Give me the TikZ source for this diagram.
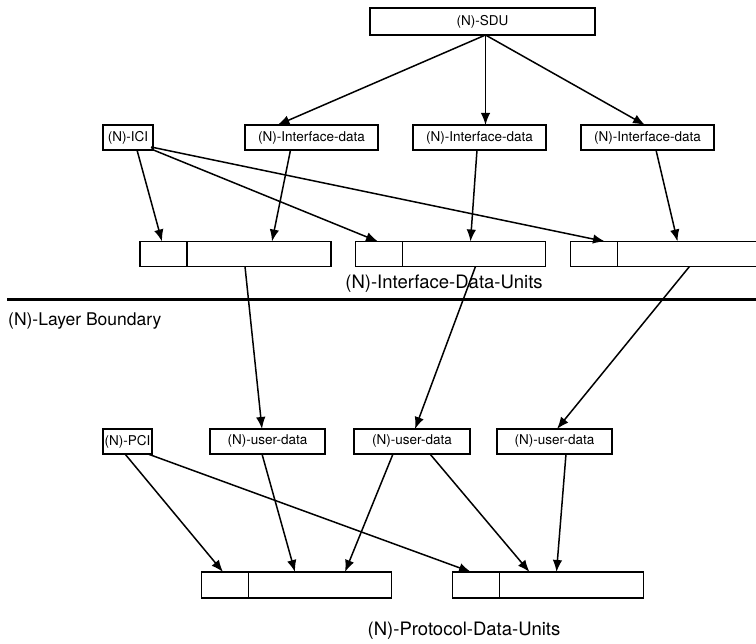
\documentclass[tikz,border=0pt]{standalone}
\usepackage{fontspec}
\setmainfont{TeX Gyre Heros}
\usetikzlibrary{arrows.meta,calc}
\begin{document}
\begin{tikzpicture}[x=1pt,y=-1pt,
  box/.style={draw,line width=1.1pt,minimum height=25pt,inner sep=0pt,outer sep=0pt,
              font=\fontsize{13.5}{14}\selectfont},
  hdr/.style={box,minimum width=47pt},
  flow/.style={line width=1.5pt,-{Latex[length=12pt,width=9.5pt]}},
  caption/.style={font=\fontsize{18.5}{20}\selectfont,inner sep=0pt}]
\clip (0,0) rectangle (756,644);

% service data unit and its pieces
\node[box,minimum width=225pt,minimum height=27pt] (sdu) at (482.5,21.5) {(N)-SDU};
\node[box,minimum width=50pt]  (ici) at (128,137.5) {(N)-ICI};
\node[box,minimum width=133pt] (id1) at (311.5,137.5) {(N)-Interface-data};
\node[box,minimum width=133pt] (id2) at (479.5,137.5) {(N)-Interface-data};
\node[box,minimum width=133pt] (id3) at (647.5,137.5) {(N)-Interface-data};

% interface data units
\node[hdr] (h1) at (163.5,254) {};
\node[box,minimum width=144pt,anchor=west] (d1) at (h1.east) {};
\node[hdr] (h2) at (379,254) {};
\node[box,minimum width=143pt,anchor=west] (d2) at (h2.east) {};
\node[hdr] (h3) at (594,254) {};
\node[box,minimum width=160pt,anchor=west] (d3) at (h3.east) {};
\node[caption] (idu) at (444,284) {(N)-Interface-Data-Units};

% layer boundary
\coordinate (lb1) at (7,300);
\coordinate (lb2) at (760,300);
\draw[line width=3pt] (lb1) -- (lb2);
\node[caption,anchor=west,font=\fontsize{17.5}{19}\selectfont] (lbl) at (8,321) {(N)-Layer Boundary};

% protocol control information and user data
\node[box,minimum width=49pt]  (pci) at (127.5,441.5) {(N)-PCI};
\node[box,minimum width=115pt] (ud1) at (267.5,441.5) {(N)-user-data};
\node[box,minimum width=116pt] (ud2) at (412,441.5) {(N)-user-data};
\node[box,minimum width=115pt] (ud3) at (554.5,441.5) {(N)-user-data};

% protocol data units
\node[hdr,minimum height=26pt] (p1) at (225,585) {};
\node[box,minimum width=143pt,minimum height=26pt,anchor=west] (q1) at (p1.east) {};
\node[hdr,minimum height=26pt] (p2) at (476,585) {};
\node[box,minimum width=144pt,minimum height=26pt,anchor=west] (q2) at (p2.east) {};
\node[caption] (pdu) at (464,631) {(N)-Protocol-Data-Units};

% SDU split into interface data
\draw[flow] ($(sdu.south)+(3,0)$) -- ($(id1.north)+(-34,0)$);
\draw[flow] ($(sdu.south)+(3,0)$) -- ($(id2.north)+(6,0)$);
\draw[flow] ($(sdu.south)+(3,0)$) -- ($(id3.north)+(-2.5,0)$);

% ICI to each IDU header
\draw[flow] ($(ici.south)+(9,0)$) -- ($(h1.north)+(-1.5,0)$);
\draw[flow] ($(ici.south east)+(-2,-1)$) -- ($(h2.north)+(-1,0)$);
\draw[flow] ($(ici.south east)+(-2,-3)$) -- ($(h3.north)+(11,0)$);

% interface data to IDU data fields
\draw[flow] ($(id1.south)+(-21,0)$) -- ($(d1.north)+(13,0)$);
\draw[flow] ($(id2.south)+(-2.5,0)$) -- ($(d2.north)+(-3.5,0)$);
\draw[flow] ($(id3.south)+(8.5,0)$) -- ($(d3.north)+(-20,0)$);

% across the layer boundary
\draw[flow] ($(d1.south)+(-14,0)$) -- ($(ud1.north)+(-5.5,0)$);
\draw[flow] ($(d2.south)+(1.5,0)$) -- ($(ud2.north)+(3,0)$);
\draw[flow] ($(d3.south)+(-8,0)$) -- ($(ud3.north)+(2.5,0)$);

% PCI and user data into PDUs
\draw[flow] ($(pci.south)+(-2.5,0)$) -- ($(p1.north)+(-2,0)$);
\draw[flow] ($(pci.south)+(20.5,0)$) -- ($(p2.north)+(-5,0)$);
\draw[flow] ($(ud1.south)+(-5.5,0)$) -- ($(q1.north)+(-25,0)$);
\draw[flow] ($(ud2.south)+(-19,0)$) -- ($(q1.north)+(25,0)$);
\draw[flow] ($(ud2.south)+(18,0)$) -- ($(q2.north)+(-42,0)$);
\draw[flow] ($(ud3.south)+(11.5,0)$) -- ($(q2.north)+(-15,0)$);
\end{tikzpicture}
\end{document}
